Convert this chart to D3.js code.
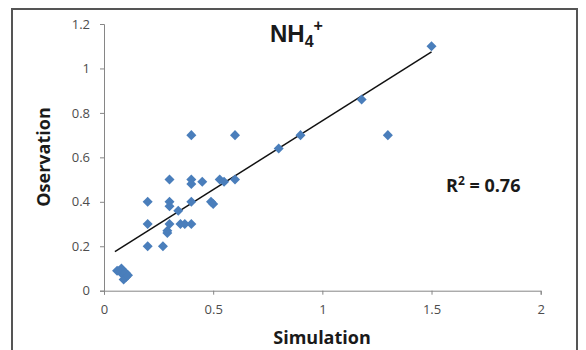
<!DOCTYPE html>
<html>
<head>
 <meta charset="UTF-8">
 <script src="https://cdn.jsdelivr.net/npm/d3@7"></script>
 <style>
body { margin: 0; background: #fff; }
svg { display: block; }
.tick text { fill: #4d4d4d; font-family: "Open Sans", sans-serif; font-size: 13px; }
.tick line, .domain { stroke: #868686; }
.lbl { font-family: "Open Sans", sans-serif; font-weight: bold; fill: #1a1a1a; }
 </style>
</head>
<body>
<svg id="chart"></svg>
<script>
// simulated vs observed NH4+
var simulation  = [0.40, 0.60, 0.80, 0.90, 1.18, 1.30, 1.50,
                   0.30, 0.40, 0.40, 0.45, 0.53, 0.55, 0.60,
                   0.20, 0.30, 0.30, 0.34, 0.40, 0.49, 0.50,
                   0.20, 0.30, 0.35, 0.37, 0.40, 0.29, 0.29,
                   0.20, 0.27,
                   0.07, 0.08, 0.09, 0.10, 0.08, 0.10, 0.09, 0.11, 0.06];
var observation = [0.70, 0.70, 0.64, 0.70, 0.86, 0.70, 1.10,
                   0.50, 0.50, 0.48, 0.49, 0.50, 0.49, 0.50,
                   0.40, 0.40, 0.38, 0.36, 0.40, 0.40, 0.39,
                   0.30, 0.30, 0.30, 0.30, 0.30, 0.27, 0.26,
                   0.20, 0.20,
                   0.09, 0.08, 0.07, 0.06, 0.10, 0.08, 0.05, 0.07, 0.09];
var xTicks = [0, 0.5, 1, 1.5, 2];
var yTicks = [0, 0.2, 0.4, 0.6, 0.8, 1, 1.2];
var trendSlope = 0.62, trendIntercept = 0.145;
var rSquared = "0.76";

var width = 586, height = 350;
var svg = d3.select("#chart").attr("width", width).attr("height", height);

svg.append("rect")
  .attr("x", 12).attr("y", 9)
  .attr("width", 565).attr("height", 360)
  .attr("fill", "#fff").attr("stroke", "#555").attr("stroke-width", 2);

var x = d3.scaleLinear().domain([0, 2]).range([104, 540.7]),
    y = d3.scaleLinear().domain([0, 1.2]).range([290.7, 24]);

svg.append("g")
  .attr("transform", "translate(0," + y(0) + ")")
  .call(d3.axisBottom(x).tickValues(xTicks).tickSize(4).tickPadding(10).tickFormat(d3.format("")));
svg.append("g")
  .attr("transform", "translate(" + x(0) + ",0)")
  .call(d3.axisLeft(y).tickValues(yTicks).tickSize(4).tickPadding(10).tickFormat(d3.format("")));
svg.selectAll(".domain").attr("stroke-width", 1);

var x0 = d3.min(simulation) - 0.01, x1 = d3.max(simulation);
svg.append("line")
  .attr("x1", x(x0)).attr("y1", y(trendIntercept + trendSlope * x0))
  .attr("x2", x(x1)).attr("y2", y(trendIntercept + trendSlope * x1))
  .attr("stroke", "#111").attr("stroke-width", 1.5);

svg.append("g").selectAll("path")
  .data(simulation)
  .enter().append("path")
  .attr("d", d3.symbol().type(d3.symbolDiamond2).size(64))
  .attr("transform", function(d, i){ return "translate(" + x(d) + "," + y(observation[i]) + ")"; })
  .attr("fill", "#4a7ebb");

// titles
var t = svg.append("text").attr("class", "lbl")
  .attr("x", 270).attr("y", 42)
  .style("font-family", "'Liberation Sans', Arial, sans-serif")
  .style("font-size", "24px");
t.append("tspan").text("NH");
t.append("tspan").attr("dy", 5).style("font-size", "16px").text("4");
t.append("tspan").attr("dy", -16).style("font-size", "16px").text("+");

var r = svg.append("text").attr("class", "lbl")
  .attr("x", 446).attr("y", 192).style("font-size", "18px");
r.append("tspan").text("R");
r.append("tspan").attr("dy", -7).style("font-size", "12px").text("2");
r.append("tspan").attr("dy", 7).text(" = " + rSquared);

svg.append("text").attr("class", "lbl")
  .attr("x", 322).attr("y", 344)
  .attr("text-anchor", "middle").style("font-size", "18px")
  .text("Simulation");

svg.append("text").attr("class", "lbl")
  .attr("transform", "translate(50,157) rotate(-90)")
  .attr("text-anchor", "middle").style("font-size", "18px")
  .text("Oservation");
</script>
</body>
</html>
